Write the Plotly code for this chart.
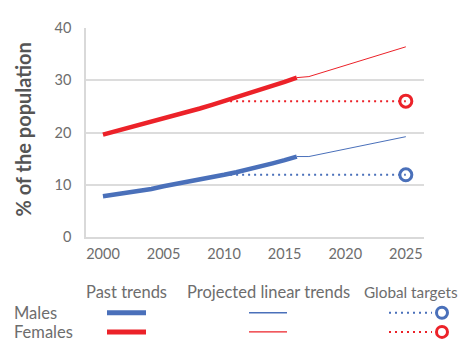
import plotly.graph_objects as go

years_past = list(range(2000, 2017))
males_past = [7.8, 8.1, 8.4, 8.8, 9.2, 9.7, 10.1, 10.5, 11.0, 11.5, 11.9, 12.4, 12.9, 13.5, 14.1, 14.7, 15.4]
females_past = [19.6, 20.2, 20.8, 21.4, 22.0, 22.6, 23.3, 24.0, 24.6, 25.3, 26.0, 26.7, 27.5, 28.2, 28.9, 29.7, 30.5]

years_proj = [2016, 2017, 2025]
males_proj = [15.4, 15.4, 19.2]
females_proj = [30.5, 30.7, 36.4]

years_target = [2010, 2025]
males_target = [11.9, 11.9]
females_target = [26.0, 26.0]

x_ticks = [2000, 2005, 2010, 2015, 2020, 2025]
y_ticks = [0, 10, 20, 30, 40]

BLUE = "#4A70BA"
RED = "#EC2229"
GREY = "#6d6d6d"
FONT = "Lato"

fig = go.Figure()
for yr, ys, col in [(years_target, males_target, BLUE), (years_target, females_target, RED)]:
    fig.add_trace(go.Scatter(x=yr, y=ys, mode="lines",
                             line=dict(color=col, width=2, dash="2px,4px")))
for ys, col in [(males_proj, BLUE), (females_proj, RED)]:
    fig.add_trace(go.Scatter(x=years_proj, y=ys, mode="lines", line=dict(color=col, width=1)))
for ys, col in [(males_past, BLUE), (females_past, RED)]:
    fig.add_trace(go.Scatter(x=years_past, y=ys, mode="lines", line=dict(color=col, width=4.5)))
for ys, col in [(males_target, BLUE), (females_target, RED)]:
    fig.add_trace(go.Scatter(x=[years_target[-1]], y=[ys[-1]], mode="markers",
                             marker=dict(symbol="circle-open", size=12, color=col,
                                         line=dict(width=3, color=col))))

def py(pxy):
    return (237 - pxy) / 218.0

def px(pxx):
    return (pxx - 86) / 338.0

shapes = []
anns = []
anns.append(dict(x=px(23), y=py(125), xref="paper", yref="paper", text="<b>% of the population</b>",
                 showarrow=False, textangle=-90, xanchor="center", yanchor="middle",
                 font=dict(family=FONT, size=20, color="#555555")))
for text, xc, anc, fs in [("Past trends", 126, "center", 16.5),
                          ("Projected linear trends", 268, "center", 16.5),
                          ("Global targets", 460, "right", 15.3)]:
    anns.append(dict(x=px(xc), y=py(294), xref="paper", yref="paper", text=text, showarrow=False,
                     xanchor=anc, yanchor="middle", font=dict(family=FONT, size=fs, color=GREY)))
for text, yc, col in [("Males", 316, BLUE), ("Females", 336, RED)]:
    anns.append(dict(x=px(12), y=py(yc), xref="paper", yref="paper", text=text, showarrow=False,
                     xanchor="left", yanchor="middle", font=dict(family=FONT, size=16.5, color=GREY)))
    shapes.append(dict(type="line", xref="paper", yref="paper", x0=px(107), x1=px(146), y0=py(yc), y1=py(yc),
                       line=dict(color=col, width=5)))
    shapes.append(dict(type="line", xref="paper", yref="paper", x0=px(249), x1=px(287), y0=py(yc), y1=py(yc),
                       line=dict(color=col, width=1.3)))
    shapes.append(dict(type="line", xref="paper", yref="paper", x0=px(389), x1=px(432), y0=py(yc), y1=py(yc),
                       line=dict(color=col, width=2, dash="2px,4px")))
    shapes.append(dict(type="circle", xref="paper", yref="paper", xsizemode="pixel", ysizemode="pixel",
                       xanchor=px(442), yanchor=py(yc), x0=-5.5, x1=5.5, y0=-5.5, y1=5.5,
                       line=dict(color=col, width=3)))

fig.update_layout(
    width=461, height=337,
    margin=dict(l=78, r=45, t=11, b=108),
    paper_bgcolor="white", plot_bgcolor="white",
    showlegend=False,
    font=dict(family=FONT, color=GREY),
    shapes=shapes, annotations=anns,
    xaxis=dict(range=[1998.6, 2026.5], tickvals=x_ticks, showgrid=False, zeroline=False,
               showline=True, linecolor="#d9d9d9", linewidth=1.5, ticks="",
               ticklabelstandoff=3,
               tickfont=dict(family=FONT, size=14.5, color=GREY)),
    yaxis=dict(range=[0, 40], tickvals=y_ticks, showgrid=True, gridcolor="#dcdcdc", gridwidth=1.5,
               zeroline=False, showline=True, linecolor="#d9d9d9", linewidth=1.5, ticks="",
               ticklabelstandoff=10,
               tickfont=dict(family=FONT, size=14.5, color=GREY)),
)

fig.write_html("out.html")
